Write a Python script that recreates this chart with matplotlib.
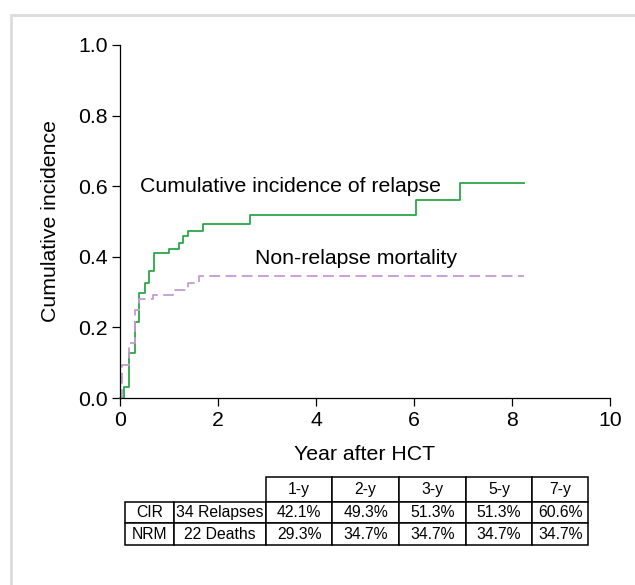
import matplotlib
matplotlib.use("Agg")
import matplotlib.pyplot as plt
from matplotlib.patches import Rectangle

plt.rcParams['font.family'] = ['Liberation Sans', 'DejaVu Sans']

# Cumulative incidence of relapse (step times in years, values)
cir_t = [0.0, 0.08, 0.08, 0.19, 0.31, 0.39, 0.50, 0.59, 0.69, 0.99, 1.20, 1.29, 1.38, 1.69, 2.65, 6.04, 6.93, 8.25]
cir_y = [0.0, 0.008, 0.032, 0.127, 0.216, 0.297, 0.327, 0.360, 0.410, 0.423, 0.440, 0.459, 0.473, 0.492, 0.517, 0.561, 0.610, 0.610]

# Non-relapse mortality
nrm_t = [0.0, 0.05, 0.19, 0.31, 0.39, 0.68, 1.09, 1.39, 1.61, 8.25]
nrm_y = [0.0, 0.093, 0.155, 0.249, 0.280, 0.293, 0.305, 0.325, 0.347, 0.347]

x_ticks = [0, 2, 4, 6, 8, 10]
y_ticks = [0.0, 0.2, 0.4, 0.6, 0.8, 1.0]

table_cols = ["1-y", "2-y", "3-y", "5-y", "7-y"]
row_labels = ["CIR", "NRM"]
row_events = ["34 Relapses", "22 Deaths"]
cir_pct = ["42.1%", "49.3%", "51.3%", "51.3%", "60.6%"]
nrm_pct = ["29.3%", "34.7%", "34.7%", "34.7%", "34.7%"]

W, H = 635, 585
FS = 15.3
fig = plt.figure(figsize=(W / 100, H / 100), dpi=100)

# light frame
fig.patches.append(Rectangle((11 / W, -0.1), 1.2, 1 - 15 / H + 0.1, transform=fig.transFigure,
                             fill=False, edgecolor='#dcdcdc', linewidth=2.0, zorder=0))

ax = fig.add_axes([120 / W, 1 - 398 / H, 490 / W, 353 / H])
ax.step(cir_t, cir_y, where='post', color='#2ca64a', linewidth=1.3, clip_on=False)
ax.step(nrm_t, nrm_y, where='post', color='#c49bd4', linewidth=1.3, dashes=(6, 3), clip_on=False)
ax.set_xlim(0, 10)
ax.set_ylim(0, 1)
ax.set_xticks(x_ticks)
ax.set_yticks(y_ticks)
ax.set_xticklabels([str(v) for v in x_ticks])
ax.set_yticklabels([f"{v:.1f}" for v in y_ticks])
for s in ['top', 'right']:
    ax.spines[s].set_visible(False)
for s in ['left', 'bottom']:
    ax.spines[s].set_linewidth(0.9)
ax.tick_params(direction='out', length=6, width=0.9, labelsize=FS, pad=3)
ax.set_xlabel("Year after HCT", fontsize=FS, labelpad=11)
ax.set_ylabel("Cumulative incidence", fontsize=FS, labelpad=13)
ax.patch.set_alpha(0)

ax.text(0.4, 0.60, "Cumulative incidence of relapse", fontsize=FS, va='center', ha='left')
ax.text(2.75, 0.395, "Non-relapse mortality", fontsize=FS, va='center', ha='left')

# table
tax = fig.add_axes([125 / W, 1 - 545 / H, (588 - 125) / W, (545 - 476.7) / H])
tax.axis('off')
cell_text = [[""] * 2 + table_cols,
             [row_labels[0], row_events[0]] + cir_pct,
             [row_labels[1], row_events[1]] + nrm_pct]
widths = [49, 91.7, 66.6, 66.7, 66.7, 66.6, 55.7]
tbl = tax.table(cellText=cell_text, colWidths=widths, bbox=[0, 0, 1, 1], cellLoc='center')
tbl.auto_set_font_size(False)
tbl.set_fontsize(11.3)
heights = [25, 21.7, 21.7]
for (r, c), cell in tbl.get_celld().items():
    cell.set_height(heights[r])
    cell.set_linewidth(1.1)
    if r == 0 and c < 2:
        cell.visible_edges = ''
    if r > 0 and c < 2:
        cell._loc = 'right'
        cell.PAD = 0.02

fig.savefig("out.png", dpi=100)
